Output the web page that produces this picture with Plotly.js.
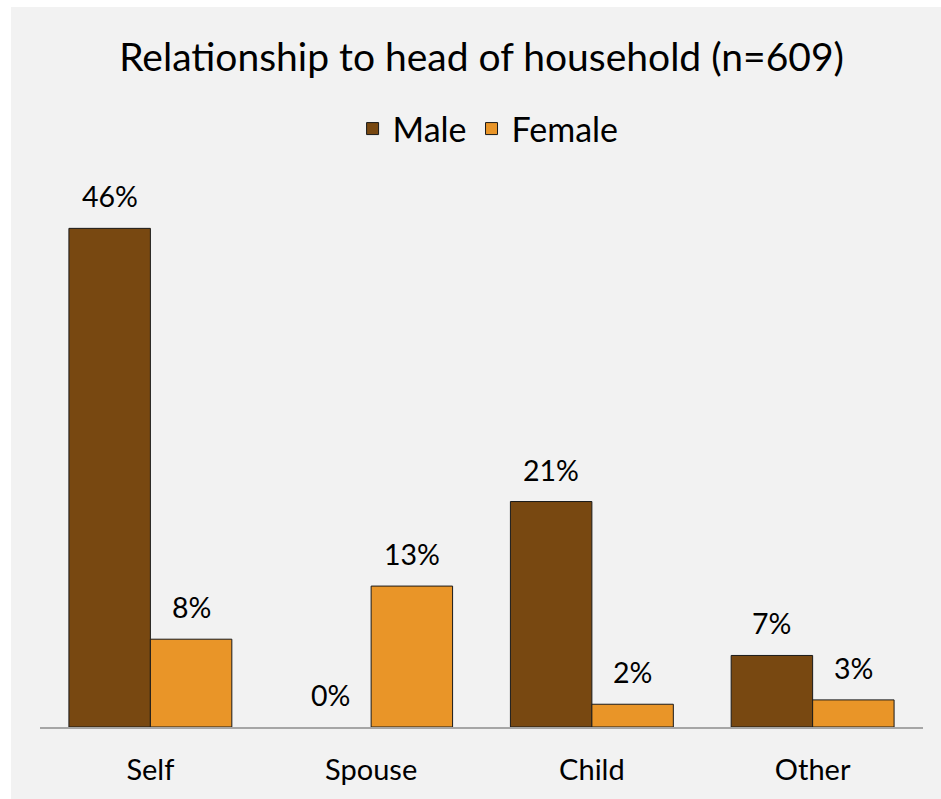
<!DOCTYPE html>
<html>
<head>
<meta charset="utf-8">
<script src="https://cdn.plot.ly/plotly-3.0.1.min.js"></script>
<style>
html,body{margin:0;padding:0;background:#ffffff;}
#chart{position:absolute;left:11px;top:7px;width:930px;height:792px;}
</style>
</head>
<body>
<div id="chart"></div>
<script>
const categories = ["Self", "Spouse", "Child", "Other"];
const maleValues = [46, 0, 20.8, 6.6];
const femaleValues = [8.1, 13, 2.1, 2.5];
const maleLabels = ["46%", "0%", "21%", "7%"];
const femaleLabels = ["8%", "13%", "2%", "3%"];

const FONT = "Lato, 'Open Sans', sans-serif";
const maleColor = "#784811";
const femaleColor = "#E99528";

const traces = [
  {type: "bar", name: "Male", x: categories, y: maleValues,
   marker: {color: maleColor, line: {color: "#1a1a1a", width: maleValues.map(v => v > 0 ? 1 : 0)}}, hoverinfo: "none"},
  {type: "bar", name: "Female", x: categories, y: femaleValues,
   marker: {color: femaleColor, line: {color: "#1a1a1a", width: femaleValues.map(v => v > 0 ? 1 : 0)}}, hoverinfo: "none"}
];

const halfBar = 40.75;
const labelFont = {family: FONT, size: 28.5, color: "#000"};
const annotations = [];
categories.forEach((c, i) => {
  annotations.push({x: c, y: maleValues[i], xref: "x", yref: "y", text: maleLabels[i],
    showarrow: false, xshift: -halfBar, yshift: 13, yanchor: "bottom", font: labelFont});
  annotations.push({x: c, y: femaleValues[i], xref: "x", yref: "y", text: femaleLabels[i],
    showarrow: false, xshift: halfBar, yshift: 13, yanchor: "bottom", font: labelFont});
});

const layout = {
  width: 930, height: 792,
  paper_bgcolor: "#f2f2f2", plot_bgcolor: "#f2f2f2",
  margin: {l: 29, r: 18, t: 177.5, b: 72},
  font: {family: FONT, color: "#000"},
  title: {text: "Relationship to head of household (n=609)", x: 0.506, xanchor: "center",
          y: 0.937, yanchor: "middle", yref: "container",
          font: {family: FONT, size: 39, color: "#000"}},
  showlegend: true,
  legend: {orientation: "h", xref: "container", yref: "container", x: 0.513, xanchor: "center",
           y: 0.846, yanchor: "middle", font: {family: FONT, size: 34, color: "#000"},
           bgcolor: "rgba(0,0,0,0)", itemwidth: 30, traceorder: "normal"},
  barmode: "group", bargap: 0.262, bargroupgap: 0,
  xaxis: {type: "category", showgrid: false, zeroline: false, showline: true,
          linecolor: "#a6a6a6", linewidth: 1.5, ticks: "", ticklabelstandoff: 17,
          tickfont: {family: FONT, size: 29, color: "#000"}, fixedrange: true},
  yaxis: {range: [0, 50], showgrid: false, zeroline: false, showline: false,
          showticklabels: false, ticks: "", fixedrange: true},
  annotations: annotations
};

Plotly.newPlot("chart", traces, layout, {displayModeBar: false, staticPlot: true});
</script>
</body>
</html>
